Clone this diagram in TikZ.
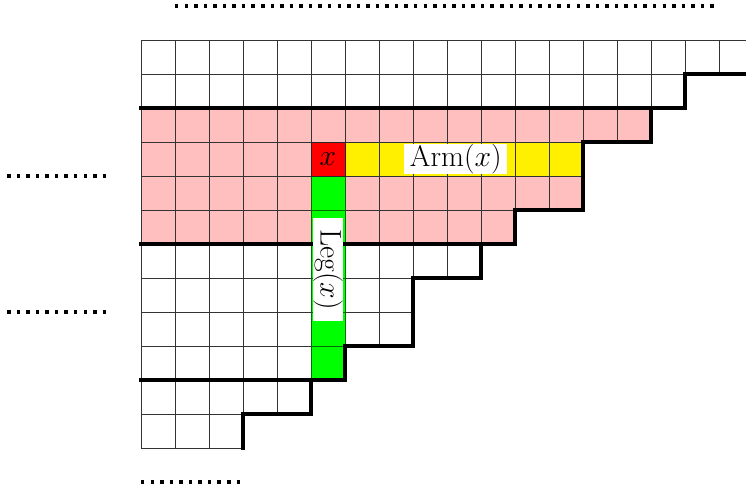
\documentclass[tikz,border=0pt]{standalone}
\usetikzlibrary{calc}
\definecolor{pinkc}{RGB}{255,191,191}
\definecolor{yellowc}{RGB}{255,240,0}
\definecolor{greenc}{RGB}{0,255,0}
\definecolor{redc}{RGB}{255,0,0}
\definecolor{greenedge}{RGB}{0,110,0}
\tikzset{
  gridline/.style={line width=0.7pt, draw=black!80},
  thickline/.style={line width=3.2pt, line join=miter, line cap=rect},
  dotline/.style={line width=2.9pt, dash pattern=on 2.9pt off 5.1pt, line cap=butt},
  greencell/.style={fill=greenc, draw=greenedge, line width=0.7pt},
  redcell/.style={fill=redc, draw=black!85, line width=0.7pt},
  lab/.style={fill=white, inner sep=0.5pt, minimum width=3.03cm, minimum height=0.88cm, font=\fontsize{25}{30}\selectfont},
  xlab/.style={inner sep=0pt, font=\fontsize{25}{30}\selectfont}
}
\begin{document}
\begin{tikzpicture}[x=1cm,y=1cm]
\useasboundingbox (-4.147,1.176) rectangle (17.794,-13.265);
% pink block (rows 2-5)
\foreach \r/\L in {2/15,3/13,4/13,5/11}{
  \fill[pinkc] (0,-\r) rectangle (\L,-\r-1);
}
% yellow arm
\fill[yellowc] (6,-3) rectangle (13,-4);
% grid
\foreach \r/\L in {0/18,1/16,2/15,3/13,4/13,5/11,6/10,7/8,8/8,9/6,10/5,11/3}{
  \foreach \c in {1,...,\L}{
    \draw[gridline] (\c-1,-\r) rectangle (\c,-\r-1);
  }
}
% green leg
\foreach \r in {4,...,9}{
  \draw[greencell] (5,-\r) rectangle (6,-\r-1);
}
% red cell
\draw[redcell] (5,-3) rectangle (6,-4);
% thick staircase boundary
\draw[thickline] (18,-1) -- (16,-1) -- (16,-2) -- (15,-2) -- (15,-3) -- (13,-3)
  -- (13,-5) -- (11,-5) -- (11,-6) -- (10,-6) -- (10,-7) -- (8,-7) -- (8,-9)
  -- (6,-9) -- (6,-10) -- (5,-10) -- (5,-11) -- (3,-11) -- (3,-12);
\draw[thickline] (0,-2) -- (16,-2);
\draw[thickline] (0,-6) -- (11,-6);
\draw[thickline] (0,-10) -- (6,-10);
% labels
\node[xlab] (xcell) at (5.5,-3.5) {$x$};
\node[lab] (arm) at (9.26,-3.5) {$\mathrm{Arm}(x)$};
\node[lab, rotate=-90] (leg) at (5.5,-6.75) {$\mathrm{Leg}(x)$};
% dotted continuation marks
\draw[dotline] (1,1) -- (16.97,1);
\draw[dotline] (-3.94,-4) -- (-1,-4);
\draw[dotline] (-3.94,-8) -- (-1,-8);
\draw[dotline] (0,-13) -- (3,-13);
\end{tikzpicture}
\end{document}
